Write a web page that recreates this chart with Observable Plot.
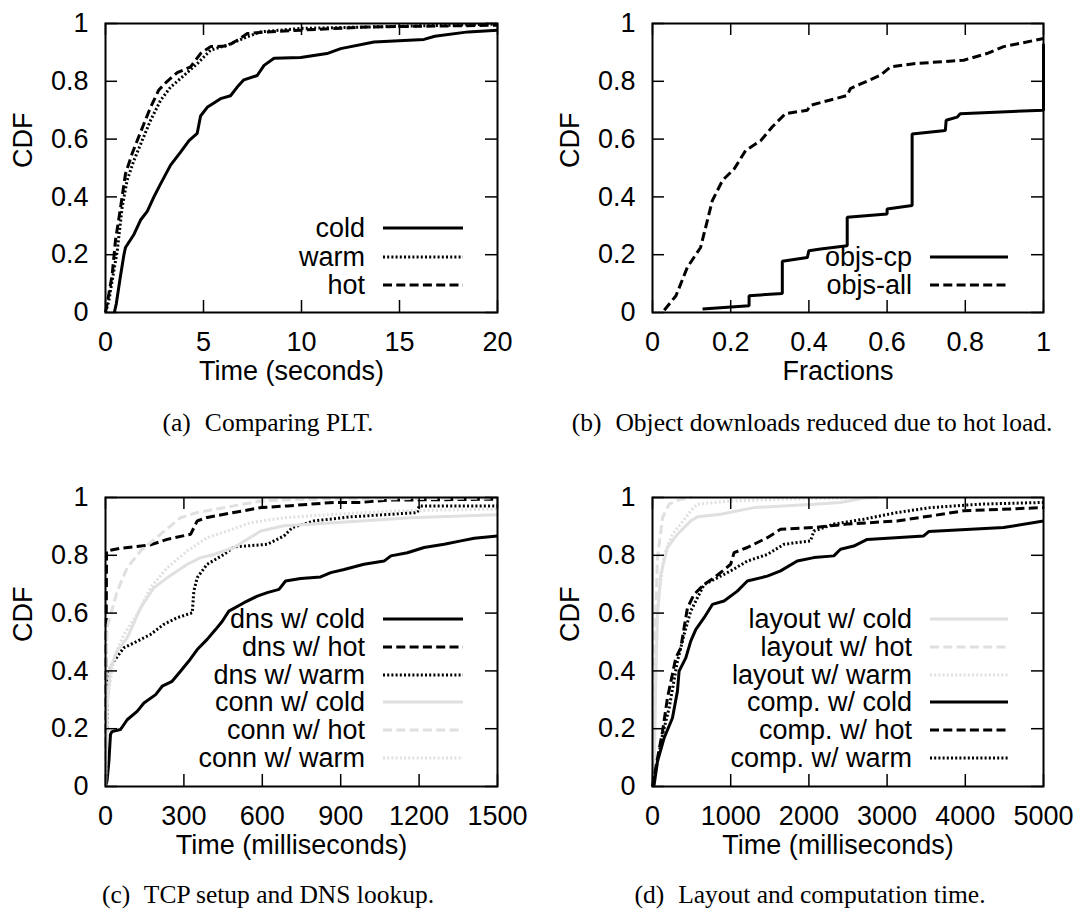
<!DOCTYPE html>
<html><head><meta charset="utf-8">
<script src="https://cdn.jsdelivr.net/npm/d3@7"></script>
<script src="https://cdn.jsdelivr.net/npm/@observablehq/plot@0.6"></script>
<style>
body{margin:0;background:#fff;}
#root{position:relative;width:1080px;height:910px;background:#fff;font-family:"Liberation Sans",Arial,Helvetica,sans-serif;color:#000;overflow:hidden;}
.panel{position:absolute;}
.cap{position:absolute;font-family:"Liberation Serif","Times New Roman",serif;font-size:25.5px;white-space:nowrap;transform:translate(-50%,-50%);}
.legtxt{position:absolute;font-size:27px;white-space:nowrap;text-align:right;height:30px;line-height:30px;width:320px;}
.legsw{position:absolute;}
</style></head><body><div id="root"></div><script>
// ---------- data ----------
const yTicks = [0, 0.2, 0.4, 0.6, 0.8, 1];
const xTicksA = [0, 5, 10, 15, 20];
const xTicksB = [0, 0.2, 0.4, 0.6, 0.8, 1];
const xTicksC = [0, 300, 600, 900, 1200, 1500];
const xTicksD = [0, 1000, 2000, 3000, 4000, 5000];

// (a) page load time CDF, seconds
const pltCold = [[0.45,0],[0.55,0.03],[0.75,0.12],[0.94,0.2],[1.02,0.225],[1.45,0.27],[1.79,0.32],[2.13,0.35],[2.47,0.4],[2.81,0.445],[3.32,0.51],[3.83,0.555],[4.26,0.595],[4.68,0.62],[4.85,0.68],[5.19,0.71],[5.87,0.74],[6.38,0.75],[6.72,0.78],[7.06,0.805],[7.74,0.82],[8.09,0.855],[8.6,0.88],[9.96,0.882],[11.3,0.896],[12.0,0.913],[13.7,0.936],[16.25,0.945],[16.8,0.956],[18.5,0.971],[20,0.977]];
const pltWarm = [[0,0],[0.17,0.04],[0.34,0.11],[0.6,0.214],[0.85,0.364],[1.1,0.457],[1.45,0.526],[1.87,0.595],[2.3,0.665],[2.81,0.734],[3.32,0.78],[4.0,0.82],[4.68,0.861],[5.36,0.908],[6.21,0.925],[7.23,0.954],[7.91,0.971],[9.96,0.983],[13.4,0.988],[20,0.998]];
const pltHot = [[0,0],[0.17,0.064],[0.34,0.13],[0.51,0.25],[0.77,0.364],[1.02,0.48],[1.36,0.55],[1.62,0.595],[1.96,0.653],[2.3,0.71],[2.72,0.77],[3.15,0.8],[3.66,0.83],[4.34,0.85],[4.85,0.896],[5.36,0.92],[6.21,0.922],[6.72,0.942],[7.23,0.965],[8.26,0.971],[9.96,0.977],[13.4,0.988],[20,0.994]];

// (b) fractions of objects
const objsCp = [[0.128,0.012],[0.247,0.023],[0.247,0.058],[0.332,0.066],[0.332,0.177],[0.396,0.19],[0.4,0.214],[0.43,0.22],[0.498,0.231],[0.498,0.33],[0.6,0.341],[0.6,0.358],[0.664,0.37],[0.664,0.618],[0.749,0.63],[0.751,0.665],[0.779,0.676],[0.787,0.688],[1.0,0.7],[1.0,0.93]];
const objsAll = [[0.03,0.008],[0.06,0.058],[0.089,0.156],[0.123,0.225],[0.153,0.387],[0.179,0.457],[0.209,0.497],[0.238,0.56],[0.277,0.595],[0.306,0.642],[0.34,0.688],[0.396,0.7],[0.404,0.717],[0.498,0.751],[0.506,0.775],[0.583,0.821],[0.609,0.85],[0.668,0.861],[0.796,0.873],[0.855,0.896],[0.898,0.92],[0.957,0.936],[1.0,0.948]];

// (c) DNS lookup and TCP setup, milliseconds
const dnsCold = [[0,0],[6,0.02],[13,0.087],[19,0.18],[25,0.19],[57,0.197],[83,0.231],[121,0.26],[147,0.289],[192,0.318],[217,0.347],[255,0.364],[287,0.399],[319,0.434],[351,0.474],[389,0.509],[421,0.543],[447,0.572],[472,0.607],[530,0.636],[581,0.659],[619,0.671],[664,0.682],[689,0.711],[747,0.72],[823,0.725],[862,0.74],[913,0.751],[989,0.769],[1066,0.78],[1092,0.798],[1155,0.809],[1219,0.827],[1296,0.838],[1360,0.85],[1411,0.859],[1500,0.867]];
const dnsHot = [[0,0],[4,0.815],[57,0.824],[172,0.836],[236,0.855],[326,0.873],[351,0.919],[389,0.931],[491,0.948],[594,0.965],[696,0.971],[875,0.983],[977,0.983],[1079,0.991],[1500,0.994]];
const dnsWarm = [[0,0],[8,0.33],[13,0.4],[32,0.434],[70,0.48],[109,0.497],[172,0.526],[223,0.561],[274,0.584],[332,0.601],[338,0.676],[351,0.723],[389,0.769],[453,0.803],[491,0.829],[619,0.838],[683,0.867],[715,0.896],[798,0.919],[938,0.933],[1194,0.948],[1200,0.971],[1500,0.971]];
const connCold = [[0,0],[6,0.27],[19,0.41],[45,0.47],[83,0.514],[134,0.618],[185,0.688],[236,0.722],[313,0.769],[364,0.792],[415,0.803],[491,0.827],[594,0.884],[683,0.902],[875,0.913],[1168,0.93],[1500,0.94]];
const connHot = [[0,0],[3,0.45],[6,0.55],[45,0.676],[83,0.757],[134,0.815],[211,0.873],[287,0.93],[351,0.948],[491,0.971],[594,0.988],[747,0.994],[1500,0.998]];
const connWarm = [[0,0],[6,0.295],[32,0.445],[70,0.526],[121,0.595],[172,0.688],[236,0.757],[313,0.815],[389,0.861],[466,0.884],[555,0.913],[683,0.93],[875,0.942],[1130,0.954],[1500,0.96]];

// (d) layout and computation, milliseconds
const layoutCold = [[0,0],[21,0.04],[43,0.387],[64,0.595],[106,0.734],[191,0.827],[319,0.873],[489,0.919],[574,0.933],[872,0.942],[1298,0.965],[2064,0.977],[2404,0.983],[2702,0.998],[2900,1]];
const layoutHot = [[0,0],[30,0.5],[64,0.79],[128,0.93],[213,0.977],[362,0.994],[500,1]];
const layoutWarm = [[0,0],[30,0.27],[64,0.618],[149,0.803],[255,0.873],[362,0.908],[489,0.954],[574,0.977],[1000,0.988],[1638,0.994],[2489,0.998]];
const compCold = [[0,0],[21,0.006],[64,0.087],[149,0.168],[255,0.237],[319,0.33],[340,0.399],[426,0.445],[489,0.503],[553,0.543],[660,0.584],[766,0.63],[915,0.642],[1085,0.676],[1213,0.711],[1468,0.728],[1638,0.746],[1851,0.78],[2064,0.792],[2319,0.798],[2404,0.821],[2574,0.832],[2745,0.855],[3468,0.867],[3532,0.882],[4489,0.896],[5000,0.919]];
const compHot = [[0,0],[64,0.098],[128,0.19],[191,0.306],[298,0.445],[362,0.48],[404,0.549],[447,0.618],[532,0.665],[660,0.699],[787,0.722],[1000,0.769],[1043,0.809],[1213,0.827],[1468,0.861],[1638,0.89],[2064,0.896],[2489,0.908],[3128,0.919],[3553,0.936],[3979,0.954],[5000,0.965]];
const compWarm = [[0,0],[64,0.087],[128,0.179],[213,0.272],[319,0.434],[404,0.526],[489,0.607],[660,0.699],[830,0.722],[1000,0.746],[1213,0.78],[1468,0.803],[1681,0.838],[2021,0.85],[2064,0.884],[2319,0.908],[2702,0.925],[3128,0.948],[3553,0.965],[4191,0.977],[5000,0.983]];

// ---------- styles ----------
const BLACK = "#000", GRAY = "#e0e0e0";
const SOLID = null, DASH = "9,4.3", DOT = "2,2.2";

const panels = [
  {left:0, top:0, mL:105, mR:43, domain:[0,20], ticks:xTicksA, xLabel:"Time (seconds)",
   caption:["(a)","Comparing PLT."], capX:268, capY:423,
   legRight:365, sw:[383,463], rows:[228,257,285],
   series:[
     {name:"cold", data:pltCold, color:BLACK, dash:SOLID},
     {name:"warm", data:pltWarm, color:BLACK, dash:DOT},
     {name:"hot", data:pltHot, color:BLACK, dash:DASH}]},
  {left:540, top:0, mL:112, mR:37, domain:[0,1], ticks:xTicksB, xLabel:"Fractions",
   caption:["(b)","Object downloads reduced due to hot load."], capX:812, capY:423,
   legRight:912, sw:[930,1008], rows:[257,285],
   series:[
     {name:"objs-cp", data:objsCp, color:BLACK, dash:SOLID},
     {name:"objs-all", data:objsAll, color:BLACK, dash:DASH}]},
  {left:0, top:474, mL:105, mR:43, domain:[0,1500], ticks:xTicksC, xLabel:"Time (milliseconds)",
   caption:["(c)","TCP setup and DNS lookup."], capX:268, capY:895,
   legRight:365, sw:[383,463], rows:[619,647,675,702,730,758],
   series:[
     {name:"dns w/ cold", data:dnsCold, color:BLACK, dash:SOLID},
     {name:"dns w/ hot", data:dnsHot, color:BLACK, dash:DASH},
     {name:"dns w/ warm", data:dnsWarm, color:BLACK, dash:DOT},
     {name:"conn w/ cold", data:connCold, color:GRAY, dash:SOLID},
     {name:"conn w/ hot", data:connHot, color:GRAY, dash:DASH},
     {name:"conn w/ warm", data:connWarm, color:GRAY, dash:DOT}]},
  {left:540, top:474, mL:112, mR:37, domain:[0,5000], ticks:xTicksD, xLabel:"Time (milliseconds)",
   caption:["(d)","Layout and computation time."], capX:810, capY:895,
   legRight:912, sw:[930,1008], rows:[619,647,675,702,730,758],
   series:[
     {name:"layout w/ cold", data:layoutCold, color:GRAY, dash:SOLID},
     {name:"layout w/ hot", data:layoutHot, color:GRAY, dash:DASH},
     {name:"layout w/ warm", data:layoutWarm, color:GRAY, dash:DOT},
     {name:"comp. w/ cold", data:compCold, color:BLACK, dash:SOLID},
     {name:"comp. w/ hot", data:compHot, color:BLACK, dash:DASH},
     {name:"comp. w/ warm", data:compWarm, color:BLACK, dash:DOT}]}
];

const root = document.getElementById("root");
const W = 540, H = 400, MT = 23, MB = 88, TICK = 12;
const fmt = d => String(d);

for (const p of panels) {
  const fw = W - p.mL - p.mR, fh = H - MT - MB;
  const marks = [];
  for (const s of p.series) {
    marks.push(Plot.line(s.data, {x: d => d[0], y: d => d[1], stroke: s.color, strokeWidth: 3,
      strokeDasharray: s.dash || undefined, strokeLinejoin: "miter", strokeLinecap: "butt"}));
  }
  marks.push(
    Plot.tickX(p.ticks, {x: d => d, insetTop: fh - TICK, stroke: BLACK, strokeWidth: 1.5}),
    Plot.tickX(p.ticks, {x: d => d, insetBottom: fh - TICK, stroke: BLACK, strokeWidth: 1.5}),
    Plot.tickY(yTicks, {y: d => d, insetRight: fw - TICK, stroke: BLACK, strokeWidth: 1.5}),
    Plot.tickY(yTicks, {y: d => d, insetLeft: fw - TICK, stroke: BLACK, strokeWidth: 1.5}),
    Plot.frame({stroke: BLACK, strokeWidth: 2}),
    Plot.text([p.xLabel], {text: d => d, frameAnchor: "bottom", dy: 67, dx: -10, fontSize: 27, fill: BLACK}),
    Plot.text(["CDF"], {text: d => d, frameAnchor: "left", dx: -82, rotate: -90, fontSize: 27, fill: BLACK})
  );
  const svg = Plot.plot({
    width: W, height: H, marginLeft: p.mL, marginRight: p.mR, marginTop: MT, marginBottom: MB,
    style: {fontFamily: '"Liberation Sans", Arial, Helvetica, sans-serif', fontSize: "27px", color: "#000", background: "transparent", overflow: "visible"},
    x: {domain: p.domain, ticks: p.ticks, tickSize: 0, tickPadding: 19, tickFormat: fmt, label: null},
    y: {domain: [0, 1], ticks: yTicks, tickSize: 0, tickPadding: 17, tickFormat: fmt, label: null},
    marks
  });
  const wrap = document.createElement("div");
  wrap.className = "panel";
  wrap.style.left = p.left + "px";
  wrap.style.top = p.top + "px";
  wrap.appendChild(svg);
  root.appendChild(wrap);

  // legend
  p.series.forEach((s, i) => {
    const y = p.rows[i];
    const t = document.createElement("div");
    t.className = "legtxt";
    t.textContent = s.name;
    t.style.left = (p.legRight - 320) + "px";
    t.style.top = (y - 15) + "px";
    root.appendChild(t);
    const ns = "http://www.w3.org/2000/svg";
    const sv = document.createElementNS(ns, "svg");
    sv.setAttribute("class", "legsw");
    const w = p.sw[1] - p.sw[0];
    sv.setAttribute("width", w); sv.setAttribute("height", 10);
    sv.style.left = p.sw[0] + "px"; sv.style.top = (y - 5) + "px";
    const ln = document.createElementNS(ns, "line");
    ln.setAttribute("x1", 0); ln.setAttribute("x2", w);
    ln.setAttribute("y1", 5); ln.setAttribute("y2", 5);
    ln.setAttribute("stroke", s.color); ln.setAttribute("stroke-width", 3);
    if (s.dash) ln.setAttribute("stroke-dasharray", s.dash);
    sv.appendChild(ln);
    root.appendChild(sv);
  });

  // caption
  const c = document.createElement("div");
  c.className = "cap";
  c.style.left = p.capX + "px";
  c.style.top = p.capY + "px";
  const a = document.createElement("span");
  a.textContent = p.caption[0];
  a.style.paddingRight = "0.3em";
  c.appendChild(a);
  c.appendChild(document.createTextNode(" " + p.caption[1]));
  root.appendChild(c);
}
</script></body></html>
